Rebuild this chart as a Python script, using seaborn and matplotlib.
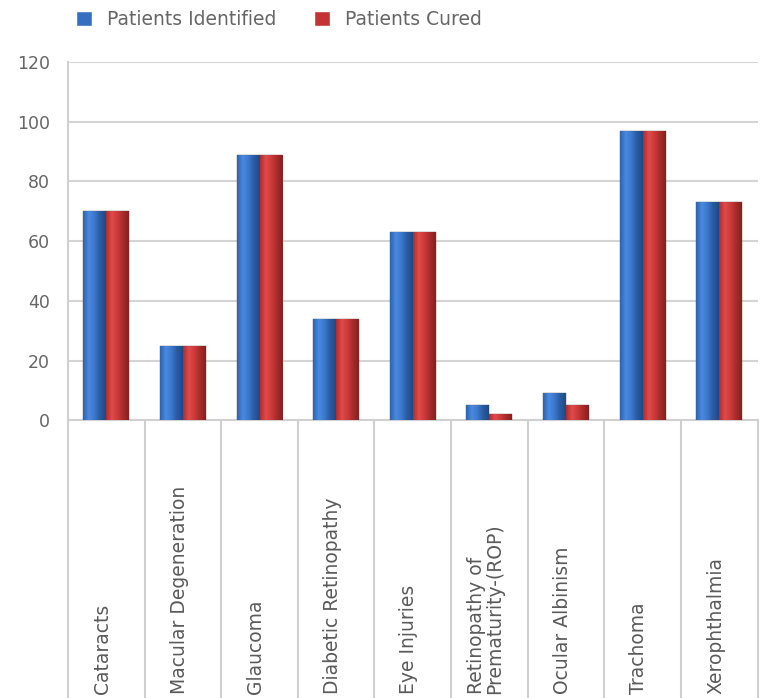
import numpy as np
import pandas as pd
import matplotlib
matplotlib.use("Agg")
import matplotlib.pyplot as plt
import seaborn as sns
from matplotlib.colors import LinearSegmentedColormap

# data
categories = ["Cataracts", "Macular Degeneration", "Glaucoma", "Diabetic Retinopathy",
              "Eye Injuries", "Retinopathy of\nPrematurity-(ROP)", "Ocular Albinism",
              "Trachoma", "Xerophthalmia"]
identified = [70, 25, 89, 34, 63, 5, 9, 97, 73]
cured = [70, 25, 89, 34, 63, 2, 5, 97, 73]
series = ["Patients Identified", "Patients Cured"]
yticks = [0, 20, 40, 60, 80, 100, 120]

df = pd.DataFrame({
    "cat": categories * 2,
    "value": identified + cured,
    "series": [series[0]] * len(categories) + [series[1]] * len(categories),
})

sns.set_style("white")
plt.rcParams['font.family'] = ['DejaVu Sans']

fig = plt.figure(figsize=(7.63, 6.98), dpi=100)
ax = fig.add_axes([0.089, 0.398, 0.904, 0.513])

palette = {series[0]: "#3570c0", series[1]: "#c43434"}
sns.barplot(data=df, x="cat", y="value", hue="series", palette=palette,
            width=0.6, ax=ax, legend=True, saturation=1, zorder=3)

# cylinder-like shading on each bar
shades = {
    series[0]: LinearSegmentedColormap.from_list("b", ["#2d62ad", "#4a8ae0", "#3a78cc", "#2a5aa0", "#1f4a88"]),
    series[1]: LinearSegmentedColormap.from_list("r", ["#b02c2c", "#e04a4a", "#cc3a3a", "#a82a2a", "#862020"]),
}
grad = np.linspace(0, 1, 64).reshape(1, -1)
for cont, name in zip(ax.containers, series):
    for p in cont.patches:
        x0, y0 = p.get_x(), p.get_y()
        w, h = p.get_width(), p.get_height()
        im = ax.imshow(grad, cmap=shades[name], aspect="auto",
                       extent=[x0, x0 + w, y0, y0 + h], zorder=3.5)
        im.set_clip_path(p)
        p.set_edgecolor("#555555")
        p.set_linewidth(0.3)

ax.set_xlim(-0.5, len(categories) - 0.5)
ax.set_ylim(0, 120)
ax.set_yticks(yticks)
ax.set_yticklabels([str(t) for t in yticks], color="#666666", fontsize=12.5)
ax.tick_params(axis="y", length=6, width=1.5, color="#d0d0d0", pad=7)
ax.set_xticks([])
ax.set_xlabel("")
ax.set_ylabel("")
ax.yaxis.grid(True, color="#d4d4d4", linewidth=1.5)
ax.set_axisbelow(True)
for s in ["top", "right"]:
    ax.spines[s].set_visible(False)
ax.spines["left"].set_color("#d0d0d0")
ax.spines["left"].set_linewidth(1.5)
ax.spines["bottom"].set_color("#d0d0d0")
ax.spines["bottom"].set_linewidth(1.5)

# table-like separators under the axis
trans = ax.get_xaxis_transform()
for b in np.arange(-0.5, len(categories), 1.0):
    ax.plot([b, b], [0, -0.78], transform=trans, color="#d0d0d0",
            linewidth=1.5, clip_on=False)

for i, lab in enumerate(categories):
    ax.text(i - 0.05, -0.765, lab, transform=trans, rotation=90,
            ha="center", va="bottom", fontsize=13.5, color="#5a5a5a",
            multialignment="left", linespacing=0.9)

handles, labels = ax.get_legend_handles_labels()
ax.legend_.remove()
fig.legend(handles, labels, loc="upper left", bbox_to_anchor=(0.078, 1.01),
           ncol=2, frameon=False, handlelength=0.85, handleheight=0.85,
           columnspacing=2.0, handletextpad=0.8, fontsize=13.5, labelcolor="#666666")

fig.savefig("out.png", dpi=100)
